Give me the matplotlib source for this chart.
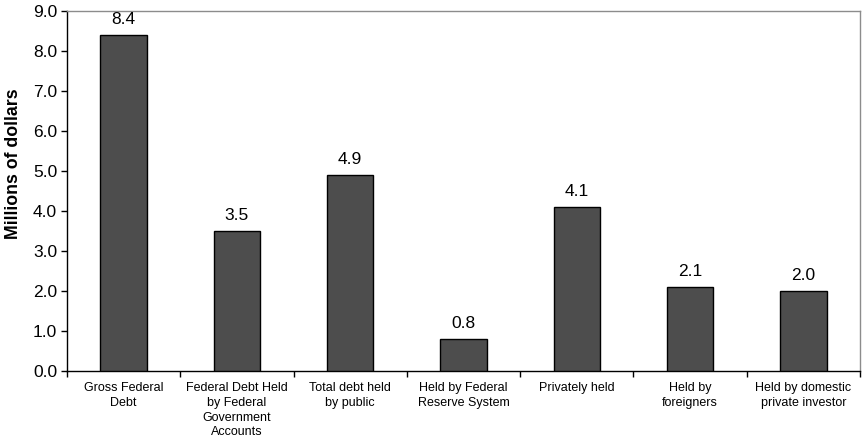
import numpy as np
import matplotlib.pyplot as plt

plt.rcParams["font.family"] = ["Liberation Sans", "DejaVu Sans"]

categorias = [
    "Gross Federal\nDebt",
    "Federal Debt Held\nby Federal\nGovernment\nAccounts",
    "Total debt held\nby public",
    "Held by Federal\nReserve System",
    "Privately held",
    "Held by\nforeigners",
    "Held by domestic\nprivate investor",
]
valores = [8.4, 3.5, 4.9, 0.8, 4.1, 2.1, 2.0]
yticks = [0.0, 1.0, 2.0, 3.0, 4.0, 5.0, 6.0, 7.0, 8.0, 9.0]

fig = plt.figure(figsize=(8.64, 4.43), dpi=100)
ax = fig.add_axes([0.0775, 0.1625, 0.918, 0.8125])

x = np.arange(len(categorias))
barras = ax.bar(x, valores, width=0.41, color="#4d4d4d", edgecolor="black", linewidth=1, zorder=3)

# etiquetas de valor sobre cada barra
for xi, v in zip(x, valores):
    ax.text(xi, v + 0.2, f"{v:.1f}", ha="center", va="bottom", fontsize=12.5)

ax.set_xlim(-0.5, len(categorias) - 0.5)
ax.set_ylim(0, 9)
ax.set_yticks(yticks)
ax.set_yticklabels([f"{t:.1f}" for t in yticks], fontsize=12.5)

# marcas del eje x en los limites entre categorias
ax.set_xticks(np.arange(len(categorias) + 1) - 0.5)
ax.set_xticklabels([])
ax.set_xticks(x, minor=True)
ax.set_xticklabels(categorias, minor=True, fontsize=9)
ax.tick_params(axis="x", which="minor", length=0, pad=8)
ax.tick_params(axis="x", which="major", direction="out", length=4, width=1)
ax.tick_params(axis="y", direction="out", length=4, width=1, pad=3)

for lbl in ax.get_xticklabels(minor=True):
    lbl.set_verticalalignment("top")
    lbl.set_linespacing(1.3)

ax.set_ylabel("Millions of dollars", fontsize=12.8, fontweight="bold", va="center")
ax.yaxis.set_label_coords(-0.068, 0.575)

ax.spines["left"].set_color("black")
ax.spines["bottom"].set_color("black")
ax.spines["top"].set_color("#8c8c8c")
ax.spines["right"].set_color("#8c8c8c")
for s in ax.spines.values():
    s.set_linewidth(1)

fig.savefig("out.png", dpi=100)
